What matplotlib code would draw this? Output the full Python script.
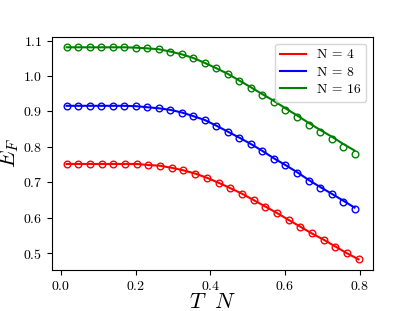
import matplotlib
matplotlib.use("Agg")
import matplotlib.pyplot as plt
from matplotlib.ticker import FuncFormatter
from matplotlib.font_manager import FontProperties

plt.rcParams['mathtext.fontset'] = 'cm'
plt.rcParams['font.family'] = 'serif'
plt.rcParams['font.serif'] = ['cmr10', 'DejaVu Serif']
plt.rcParams['axes.formatter.use_mathtext'] = True

# x = T*N
x_n4 = [0.015, 0.046, 0.078, 0.109, 0.140, 0.172, 0.203, 0.234, 0.265, 0.297, 0.328, 0.359, 0.391,
        0.422, 0.453, 0.485, 0.516, 0.547, 0.578, 0.610, 0.641, 0.672, 0.704, 0.735, 0.766, 0.797]
x_n8 = [0.015, 0.046, 0.077, 0.108, 0.138, 0.169, 0.200, 0.231, 0.262, 0.293, 0.324, 0.354, 0.385,
        0.416, 0.447, 0.478, 0.509, 0.539, 0.570, 0.601, 0.632, 0.663, 0.694, 0.725, 0.755, 0.786]
x_n16 = list(x_n8)

# markers (data)
ef_n4 = [0.752, 0.752, 0.752, 0.752, 0.752, 0.752, 0.752, 0.749, 0.747, 0.741, 0.734, 0.725, 0.713,
         0.699, 0.684, 0.668, 0.650, 0.632, 0.614, 0.594, 0.575, 0.556, 0.538, 0.519, 0.500, 0.483]
ef_n8 = [0.916, 0.916, 0.916, 0.916, 0.916, 0.916, 0.915, 0.912, 0.909, 0.9045, 0.897, 0.887, 0.876,
         0.860, 0.843, 0.826, 0.807, 0.788, 0.767, 0.748, 0.727, 0.705, 0.685, 0.666, 0.646, 0.626]
ef_n16 = [1.081, 1.081, 1.081, 1.081, 1.081, 1.081, 1.080, 1.078, 1.0755, 1.069, 1.061, 1.051, 1.037,
          1.022, 1.006, 0.987, 0.967, 0.947, 0.927, 0.905, 0.884, 0.862, 0.841, 0.821, 0.800, 0.780]

# solid curves
fit_n4 = list(ef_n4)
fit_n8 = [0.916, 0.916, 0.916, 0.916, 0.916, 0.916, 0.915, 0.912, 0.909, 0.9045, 0.897, 0.887, 0.876,
          0.860, 0.843, 0.826, 0.808, 0.789, 0.768, 0.749, 0.729, 0.707, 0.687, 0.668, 0.649, 0.629]
fit_n16 = [1.081, 1.081, 1.081, 1.081, 1.081, 1.081, 1.080, 1.078, 1.0755, 1.069, 1.061, 1.051, 1.037,
           1.022, 1.006, 0.987, 0.968, 0.949, 0.930, 0.909, 0.889, 0.868, 0.848, 0.829, 0.809, 0.790]

labels = ['N = 4', 'N = 8', 'N = 16']
colors = ['red', 'blue', 'green']

fig = plt.figure(figsize=(4.15, 3.11), dpi=100)
ax = fig.add_axes([0.1253, 0.132, 0.774, 0.75])

for xs, fit, ef, c, lab in [(x_n4, fit_n4, ef_n4, colors[0], labels[0]),
                             (x_n8, fit_n8, ef_n8, colors[1], labels[1]),
                             (x_n16, fit_n16, ef_n16, colors[2], labels[2])]:
    ax.plot(xs, fit, color=c, lw=1.5, label=lab)
    ax.plot(xs, ef, 'o', color=c, mfc='none', ms=4.8, mew=1.0)

ax.set_xticks([0.0, 0.2, 0.4, 0.6, 0.8])
ax.set_yticks([0.5, 0.6, 0.7, 0.8, 0.9, 1.0, 1.1])
fmt = FuncFormatter(lambda v, p: r'$%.1f$' % v)
ax.xaxis.set_major_formatter(fmt)
ax.yaxis.set_major_formatter(fmt)
ax.tick_params(labelsize=10)

ax.set_xlabel(r'$T\ \ N$', fontsize=16, labelpad=0)
ax.set_ylabel(r'$E_F$', fontsize=16, labelpad=1)
ax.legend(loc='upper right', prop=FontProperties(family='cmr10', size=9.8),
          labelspacing=0.35, handlelength=1.9)

fig.savefig('out.png', dpi=100)
